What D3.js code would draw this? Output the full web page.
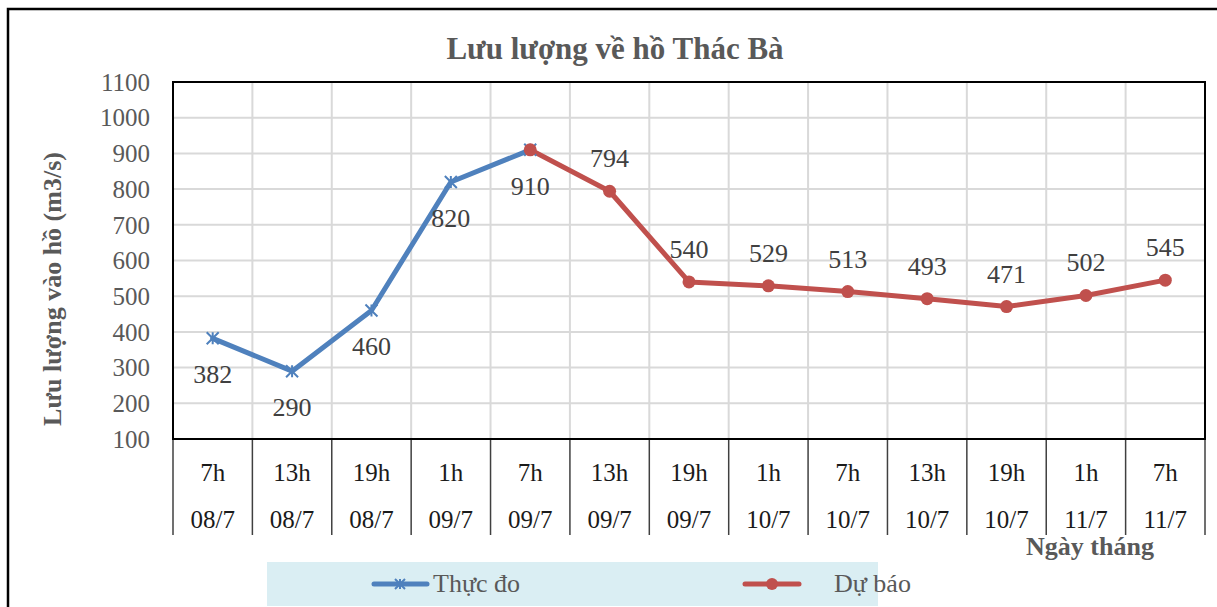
<!DOCTYPE html>
<html><head><meta charset="utf-8">
<script src="https://cdn.jsdelivr.net/npm/d3@7"></script>
<style>body{margin:0;background:#fff}svg{display:block}</style>
</head><body>
<svg id="c" width="1217" height="607"></svg>
<script>
const hours = ["7h","13h","19h","1h","7h","13h","19h","1h","7h","13h","19h","1h","7h"];
const dates = ["08/7","08/7","08/7","09/7","09/7","09/7","09/7","10/7","10/7","10/7","10/7","11/7","11/7"];
const observed = [382,290,460,820,910,null,null,null,null,null,null,null,null];
const forecast = [null,null,null,null,910,794,540,529,513,493,471,502,545];
const yTicks = [100,200,300,400,500,600,700,800,900,1000,1100];
const labelsBelow = [0,1,2,3,4];

const FONT = "'Liberation Serif', 'Times New Roman', Tinos, 'DejaVu Serif', serif";
const svg = d3.select("#c");
const L=173,T=82,R=1205,B=439;
const idx = d3.range(hours.length);
const x = d3.scaleBand().domain(idx).range([L,R]).padding(0);
const y = d3.scaleLinear().domain([100,1100]).range([B,T]);
const cx = i => x(i)+x.bandwidth()/2;

// outer border
svg.append("rect").attr("x",8).attr("y",9).attr("width",1230).attr("height",620)
  .attr("fill","none").attr("stroke","#000").attr("stroke-width",2.5);

// title
svg.append("text").attr("x",615).attr("y",59).attr("text-anchor","middle")
  .attr("font-size",31).attr("font-weight","bold").attr("fill","#595959").text("Lưu lượng về hồ Thác Bà");

// grid
const g = svg.append("g");
g.selectAll(".hg").data(yTicks).join("line").attr("x1",L).attr("x2",R)
  .attr("y1",d=>y(d)).attr("y2",d=>y(d)).attr("stroke","#d9d9d9").attr("stroke-width",2);
g.selectAll(".vg").data(idx.slice(1)).join("line").attr("x1",d=>x(d)).attr("x2",d=>x(d))
  .attr("y1",T).attr("y2",B).attr("stroke","#d9d9d9").attr("stroke-width",2);

// y axis labels
const yAxis = d3.axisLeft(y).tickValues(yTicks).tickFormat(d3.format("d")).tickSize(0).tickPadding(23);
const ya = svg.append("g").attr("transform",`translate(${L},0)`).call(yAxis);
ya.select(".domain").remove();
ya.selectAll("text").attr("font-size",25).attr("fill","#595959").attr("dy","0.33em");

// x category lines
svg.selectAll(".xt").data(idx.concat([hours.length])).join("line")
  .attr("x1",d=>d<hours.length?x(d):R).attr("x2",d=>d<hours.length?x(d):R)
  .attr("y1",B).attr("y2",535).attr("stroke","#404040").attr("stroke-width",1.5);
svg.selectAll(".xh").data(idx).join("text").attr("x",cx).attr("y",481)
  .attr("text-anchor","middle").attr("font-size",25).attr("fill","#1a1a1a").text(d=>hours[d]);
svg.selectAll(".xd").data(idx).join("text").attr("x",cx).attr("y",528)
  .attr("text-anchor","middle").attr("font-size",25).attr("fill","#1a1a1a").text(d=>dates[d]);

// plot border
svg.append("rect").attr("x",L).attr("y",T).attr("width",R-L).attr("height",B-T)
  .attr("fill","none").attr("stroke","#000").attr("stroke-width",2);

// axis titles
svg.append("text").attr("transform",`translate(61,289) rotate(-90)`).attr("text-anchor","middle")
  .attr("font-size",26).attr("font-weight","bold").attr("fill","#595959").text("Lưu lượng vào hồ (m3/s)");
svg.append("text").attr("x",1090).attr("y",555).attr("text-anchor","middle")
  .attr("font-size",26).attr("font-weight","bold").attr("fill","#595959").text("Ngày tháng");

// lines
const line = d3.line().defined(d=>d.v!=null).x(d=>cx(d.i)).y(d=>y(d.v));
const obsD = observed.map((v,i)=>({i,v}));
const fcD = forecast.map((v,i)=>({i,v}));
const blue="#4F81BD", red="#C0504D";
svg.append("path").datum(obsD).attr("d",line).attr("fill","none").attr("stroke",blue)
  .attr("stroke-width",5).attr("stroke-linejoin","round").attr("stroke-linecap","round");
svg.append("path").datum(fcD).attr("d",line).attr("fill","none").attr("stroke",red)
  .attr("stroke-width",5).attr("stroke-linejoin","round").attr("stroke-linecap","round");

const star = s => `M${-s},${-s}L${s},${s}M${-s},${s}L${s},${-s}M0,${-s}L0,${s}`;
svg.selectAll(".om").data(obsD.filter(d=>d.v!=null)).join("path")
  .attr("transform",d=>`translate(${cx(d.i)},${y(d.v)})`).attr("d",star(6))
  .attr("stroke",blue).attr("stroke-width",2).attr("fill","none");
svg.selectAll(".fm").data(fcD.filter(d=>d.v!=null)).join("circle")
  .attr("cx",d=>cx(d.i)).attr("cy",d=>y(d.v)).attr("r",6.5).attr("fill",red);

// data labels
const labels = idx.map(i=>({i, v: observed[i]!=null?observed[i]:forecast[i]}));
svg.selectAll(".dl").data(labels).join("text")
  .attr("x",d=>cx(d.i)).attr("y",d=>y(d.v)+(labelsBelow.includes(d.i)?45:-24))
  .attr("text-anchor","middle").attr("font-size",26).attr("fill","#404040").text(d=>d.v);

// legend
svg.append("rect").attr("x",267).attr("y",562).attr("width",611).attr("height",44).attr("fill","#DAEEF3");
const lg = svg.append("g");
lg.append("line").attr("x1",374).attr("x2",427).attr("y1",584).attr("y2",584)
  .attr("stroke",blue).attr("stroke-width",5).attr("stroke-linecap","round");
lg.append("path").attr("transform","translate(400,584)").attr("d",star(5)).attr("stroke",blue).attr("stroke-width",2);
lg.append("text").attr("x",433).attr("y",592).attr("font-size",26).attr("fill","#595959").text("Thực đo");
lg.append("line").attr("x1",745).attr("x2",799).attr("y1",584).attr("y2",584)
  .attr("stroke",red).attr("stroke-width",5).attr("stroke-linecap","round");
lg.append("circle").attr("cx",772).attr("cy",584).attr("r",6).attr("fill",red);
lg.append("text").attr("x",834).attr("y",592).attr("font-size",26).attr("fill","#595959").text("Dự báo");

svg.selectAll("text").style("font-family", FONT);
</script>
</body></html>
